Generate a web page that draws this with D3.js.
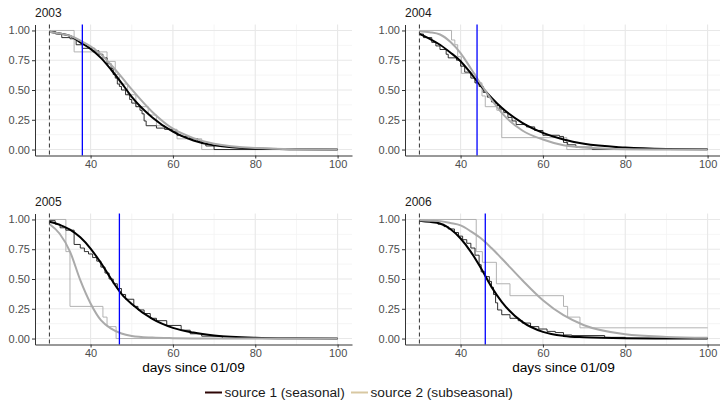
<!DOCTYPE html>
<html><head><meta charset="utf-8">
<script src="https://cdn.jsdelivr.net/npm/d3@7"></script>
<style>
html,body{margin:0;padding:0;background:#fff;}
svg{display:block;font-family:"Liberation Sans",Arial,Helvetica,sans-serif;}
</style></head>
<body><svg id="chart" width="720" height="400"></svg>
<script>
// ---------- data ----------
const years = ["2003", "2004", "2005", "2006"];
const startDay = [30, 30, 30, 30];          // dashed reference line
const blueDay = [38, 44, 47, 46];          // blue vertical line
const xTicks = [40, 60, 80, 100];
const xMinor = [30, 50, 70, 90];
const yTicks = [0, 0.25, 0.5, 0.75, 1];
const yMinor = [0.125, 0.375, 0.625, 0.875];
const xAxisTitle = "days since 01/09";
const seriesNames = ["source 1 (seasonal)", "source 2 (subseasonal)"];

// fitted curves (read at these days)
const fitDays = [30, 32.5, 35, 37.5, 40, 42.5, 45, 47.5, 50, 55, 60, 65, 70, 80, 90, 100];
const fit1_2003 = [0.99, 0.975, 0.955, 0.9, 0.845, 0.77, 0.67, 0.56, 0.443, 0.27, 0.15, 0.076, 0.035, 0.008, 0.002, 0];
const fit2_2003 = [0.99, 0.975, 0.955, 0.915, 0.867, 0.8, 0.71, 0.61, 0.505, 0.316, 0.175, 0.096, 0.048, 0.012, 0.003, 0.001];
const fit1_2004 = [0.972, 0.93, 0.88, 0.815, 0.742, 0.64, 0.53, 0.435, 0.35, 0.224, 0.14, 0.084, 0.048, 0.017, 0.005, 0.002];
const fit2_2004 = [0.994, 0.985, 0.966, 0.905, 0.81, 0.68, 0.546, 0.42, 0.308, 0.16, 0.084, 0.036, 0.017, 0.003, 0.001, 0];
const fit1_2005 = [0.98, 0.955, 0.915, 0.85, 0.756, 0.635, 0.5, 0.375, 0.29, 0.165, 0.09, 0.05, 0.026, 0.007, 0.002, 0];
const fit2_2005 = [0.962, 0.88, 0.73, 0.49, 0.294, 0.154, 0.084, 0.042, 0.022, 0.008, 0.003, 0.001, 0, 0, 0, 0];
const fit1_2006 = [0.99, 0.98, 0.966, 0.92, 0.84, 0.728, 0.588, 0.434, 0.308, 0.14, 0.056, 0.022, 0.011, 0.003, 0.001, 0];
const fit2_2006 = [0.994, 0.99, 0.986, 0.97, 0.95, 0.9, 0.84, 0.76, 0.672, 0.49, 0.322, 0.196, 0.112, 0.036, 0.014, 0.006];

// empirical step curves [day, fraction]
const step1_2003 = [[30,0.99],[31.5,0.97],[33,0.94],[35,0.93],[36.5,0.88],[38,0.85],[41,0.83],[42,0.8],[43,0.77],[44,0.72],[45,0.68],[45.5,0.63],[46,0.6],[46.5,0.55],[47,0.53],[47.5,0.5],[48.5,0.46],[49.5,0.42],[50,0.39],[51,0.36],[52,0.33],[52.5,0.3],[53,0.24],[53.5,0.2],[56,0.18],[58,0.17],[60,0.15],[61,0.12],[62,0.11],[64,0.09],[66,0.07],[67,0.05],[68,0.03],[70,0],[100,0]];
const step2_2003 = [[30,1],[36,0.82],[44,0.74],[46,0.63],[47,0.55],[49,0.46],[51,0.36],[54,0.29],[56,0.2],[58,0.17],[61,0.09],[67,0],[100,0]];
const step1_2004 = [[30,0.97],[31,0.94],[33,0.9],[34,0.87],[35,0.84],[36.5,0.8],[37,0.77],[39,0.75],[40,0.7],[41,0.65],[42.5,0.6],[43.5,0.56],[44.5,0.53],[45.5,0.48],[46.5,0.44],[47.5,0.4],[48.5,0.37],[49.5,0.34],[50.5,0.31],[51.5,0.27],[52.5,0.24],[53.5,0.21],[56,0.19],[58,0.16],[60,0.12],[64,0.11],[65,0.06],[66,0.04],[68,0.02],[72,0],[100,0]];
const step2_2004 = [[30,1],[37.8,0.92],[38.6,0.88],[39.3,0.78],[40.2,0.64],[43.5,0.56],[45.2,0.45],[46,0.36],[48.8,0.33],[50,0.1],[65.8,0],[100,0]];
const step1_2005 = [[30,0.99],[31.4,0.96],[32.6,0.93],[34,0.91],[36,0.79],[37.5,0.76],[38.5,0.73],[39.5,0.71],[40.5,0.68],[41.5,0.65],[42.5,0.6],[43.5,0.55],[44.5,0.5],[45.5,0.46],[46.5,0.42],[47.5,0.37],[48.5,0.33],[50.5,0.27],[51.5,0.24],[53,0.21],[54.5,0.17],[56,0.15],[58.5,0.11],[62,0.07],[64.2,0.04],[67,0.02],[72,0],[100,0]];
const step2_2005 = [[30,1],[34,0.73],[35,0.27],[43,0.18],[44,0.1],[46.2,0],[100,0]];
const step1_2006 = [[30,0.99],[33,0.98],[34.5,0.96],[36,0.94],[37,0.92],[38.5,0.89],[39.5,0.86],[40.5,0.83],[41.5,0.8],[42.5,0.76],[43.5,0.7],[44.5,0.62],[45,0.56],[46,0.52],[47,0.48],[47.5,0.43],[48,0.37],[48.5,0.3],[49,0.24],[50,0.2],[52,0.17],[54,0.15],[55,0.13],[57,0.1],[59,0.08],[61,0.06],[63,0.05],[65,0.03],[67,0.025],[75,0.01],[80,0],[100,0]];
const step2_2006 = [[30,1],[43.8,0.73],[45.3,0.64],[48.7,0.46],[52,0.36],[65,0.27],[66,0.18],[69,0.09],[100,0.09]];

const fits1 = [fit1_2003, fit1_2004, fit1_2005, fit1_2006];
const fits2 = [fit2_2003, fit2_2004, fit2_2005, fit2_2006];
const steps1 = [step1_2003, step1_2004, step1_2005, step1_2006];
const steps2 = [step2_2003, step2_2004, step2_2005, step2_2006];

// ---------- layout ----------
const svg = d3.select("#chart");
const panelW = 317;
const panelPos = [
  {left: 35, top: 24.5, bottom: 155.5},
  {left: 405, top: 24.5, bottom: 155.5},
  {left: 35, top: 213.5, bottom: 344.5},
  {left: 405, top: 213.5, bottom: 344.5}
];
const col1 = "#000000", col2 = "#aaaaaa";

years.forEach((yr, i) => {
  const p = panelPos[i];
  const x = d3.scaleLinear().domain([26.5, 103.5]).range([p.left, p.left + panelW]);
  const y = d3.scaleLinear().domain([-0.05, 1.05]).range([p.bottom, p.top]);
  const g = svg.append("g");

  // grid
  g.selectAll(".xmin").data(xMinor).join("line")
    .attr("x1", d => x(d)).attr("x2", d => x(d)).attr("y1", p.top).attr("y2", p.bottom)
    .attr("stroke", "#f2f2f2").attr("stroke-width", 0.8);
  g.selectAll(".ymin").data(yMinor).join("line")
    .attr("y1", d => y(d)).attr("y2", d => y(d)).attr("x1", p.left).attr("x2", p.left + panelW)
    .attr("stroke", "#f2f2f2").attr("stroke-width", 0.8);
  g.selectAll(".xmaj").data(xTicks).join("line")
    .attr("x1", d => x(d)).attr("x2", d => x(d)).attr("y1", p.top).attr("y2", p.bottom)
    .attr("stroke", "#e8e8e8").attr("stroke-width", 1.1);
  g.selectAll(".ymaj").data(yTicks).join("line")
    .attr("y1", d => y(d)).attr("y2", d => y(d)).attr("x1", p.left).attr("x2", p.left + panelW)
    .attr("stroke", "#e8e8e8").attr("stroke-width", 1.1);

  const stepLine = d3.line().x(d => x(d[0])).y(d => y(d[1])).curve(d3.curveStepAfter);
  const fitLine = d3.line().x((d, j) => x(fitDays[j])).y(d => y(d)).curve(d3.curveMonotoneX);

  g.append("path").attr("d", stepLine(steps2[i])).attr("fill", "none")
    .attr("stroke", col2).attr("stroke-width", 0.9);
  g.append("path").attr("d", stepLine(steps1[i])).attr("fill", "none")
    .attr("stroke", "#1a1a1a").attr("stroke-width", 0.9);
  g.append("path").attr("d", fitLine(fits1[i])).attr("fill", "none")
    .attr("stroke", col1).attr("stroke-width", 2);
  g.append("path").attr("d", fitLine(fits2[i])).attr("fill", "none")
    .attr("stroke", col2).attr("stroke-width", 2);

  // reference lines
  g.append("line").attr("x1", x(startDay[i])).attr("x2", x(startDay[i]))
    .attr("y1", p.top).attr("y2", p.bottom)
    .attr("stroke", "#333").attr("stroke-width", 1).attr("stroke-dasharray", "4,3");
  g.append("line").attr("x1", x(blueDay[i])).attr("x2", x(blueDay[i]))
    .attr("y1", p.top).attr("y2", p.bottom)
    .attr("stroke", "#0000ff").attr("stroke-width", 1.3);

  // axes
  const ax = g.append("g").attr("transform", `translate(0,${p.bottom})`)
    .call(d3.axisBottom(x).tickValues(xTicks).tickSize(3).tickSizeOuter(0).tickPadding(2));
  const ay = g.append("g").attr("transform", `translate(${p.left},0)`)
    .call(d3.axisLeft(y).tickValues(yTicks).tickFormat(d3.format(".2f")).tickSize(3).tickSizeOuter(0).tickPadding(2));
  [ax, ay].forEach(a => {
    a.select(".domain").attr("stroke", "#333").attr("stroke-width", 1);
    a.selectAll(".tick line").attr("stroke", "#333");
    a.selectAll(".tick text").attr("fill", "#4d4d4d").style("font-size", "11px")
      .style("font-family", '"Liberation Sans",Arial,sans-serif');
  });

  // panel title
  g.append("text").attr("x", p.left).attr("y", p.top - 7.5).text(yr)
    .style("font-size", "12px").attr("fill", "#1a1a1a");
});

// axis titles
[35, 405].forEach(l => {
  svg.append("text").attr("x", l + panelW / 2).attr("y", 372).attr("text-anchor", "middle")
    .style("font-size", "13.7px").attr("fill", "#000").text(xAxisTitle);
});

// legend
const legCols = ["#2e0606", "#d8c8a2"];
const legX = [205, 351];
seriesNames.forEach((n, k) => {
  svg.append("line").attr("x1", legX[k]).attr("x2", legX[k] + 17).attr("y1", 392.5).attr("y2", 392.5)
    .attr("stroke", legCols[k]).attr("stroke-width", 2);
  svg.append("text").attr("x", legX[k] + 19.5).attr("y", 396.5).style("font-size", "13.7px")
    .attr("fill", "#1a1a1a").text(n);
});
</script></body></html>
